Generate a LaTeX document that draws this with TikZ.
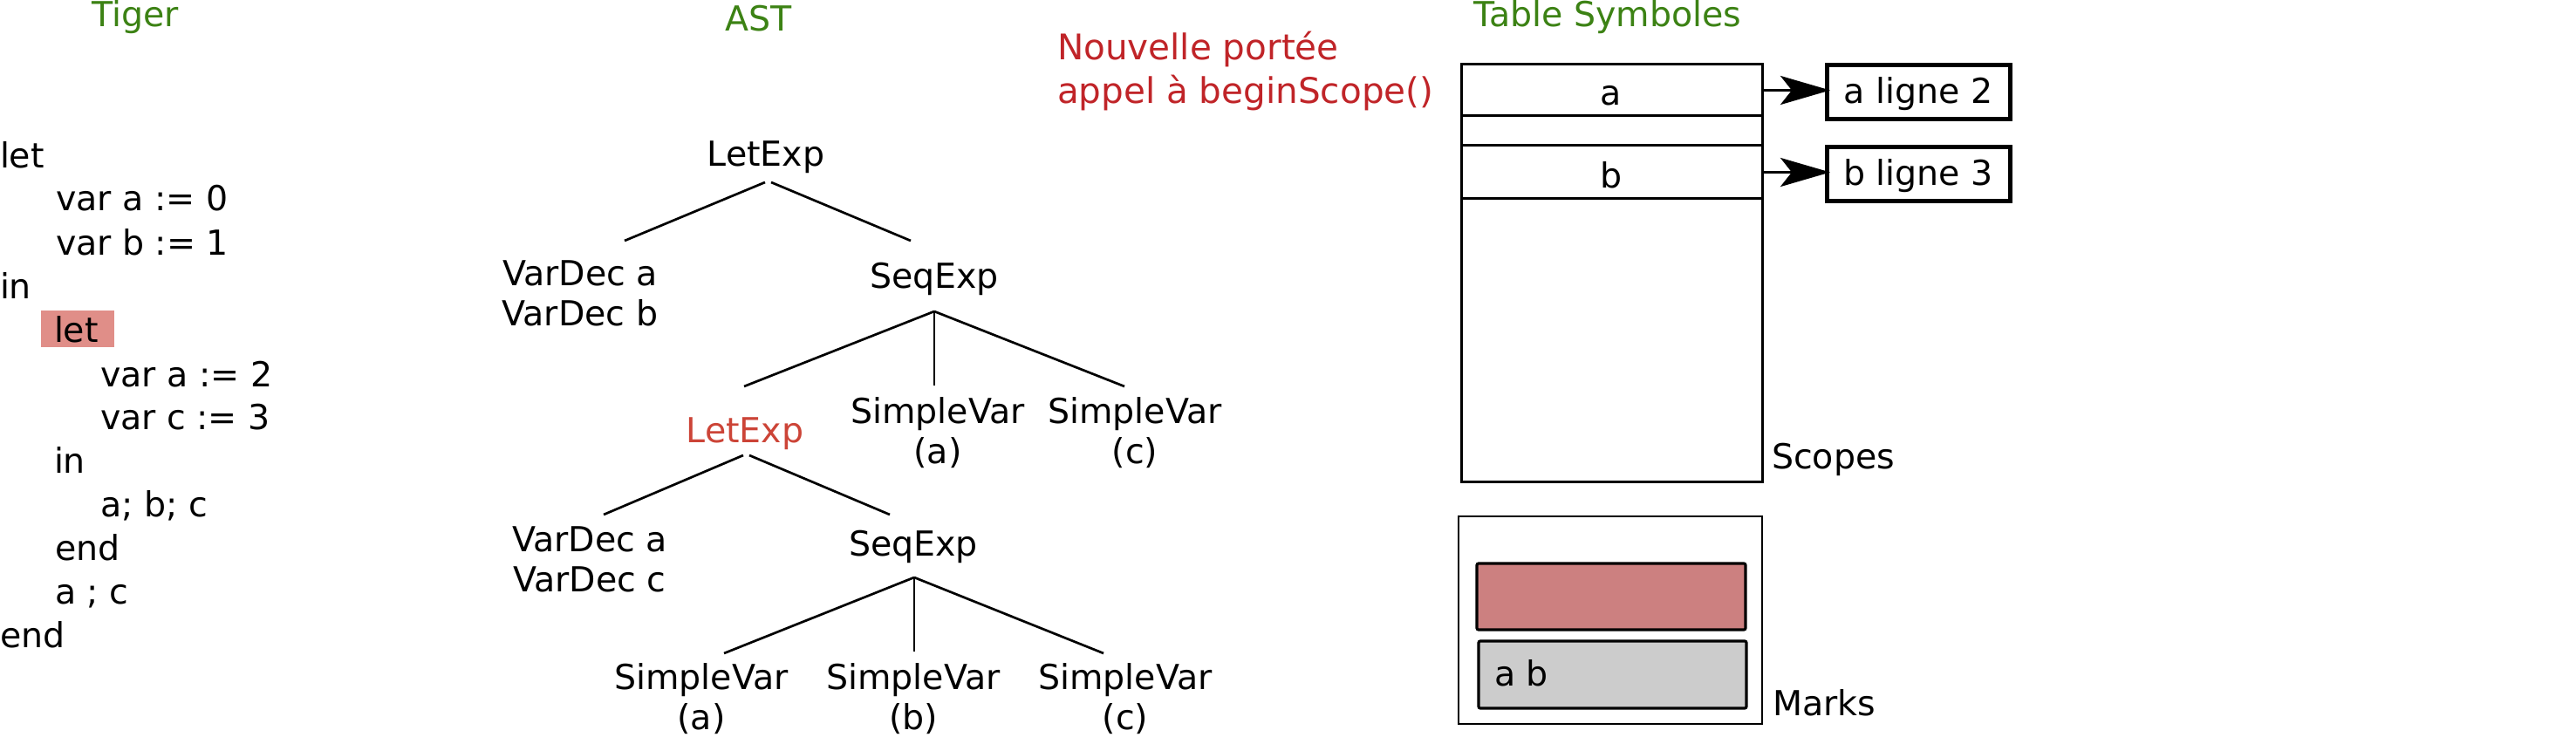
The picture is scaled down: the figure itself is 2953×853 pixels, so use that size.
\documentclass[tikz,border=0pt]{standalone}
\usepackage{fontspec}
\setmainfont{DejaVu Sans}
\usetikzlibrary{arrows.meta,calc}
\definecolor{titlegreen}{RGB}{60,130,20}
\definecolor{notered}{RGB}{192,36,40}
\definecolor{astred}{RGB}{204,68,55}
\definecolor{hlred}{RGB}{224,142,136}
\definecolor{markred}{RGB}{204,128,128}
\definecolor{markgray}{RGB}{204,204,204}
\begin{document}
\begin{tikzpicture}[x=1pt,y=-1pt,
  every node/.style={inner sep=0pt, outer sep=0pt, font=\fontsize{39.5}{46}\selectfont},
  titletext/.style={anchor=base, text=titlegreen},
  codeline/.style={anchor=base west},
  treenode/.style={anchor=base},
  treeedge/.style={line width=2.7pt},
  rowbox/.style={draw, line width=3pt, minimum width=345pt, anchor=north west},
  symbox/.style={draw, line width=5pt, minimum width=210pt, minimum height=62pt, text height=30pt, text depth=4pt},
  ptr/.style={line width=3.5pt, shorten >=-4pt, -{Stealth[length=57pt,width=33pt,inset=13pt]}},
  markbox/.style={draw, line width=3.2pt, rounded corners=2pt, anchor=north west}
]
\useasboundingbox (0,0) rectangle (2953,853);

% titles
\node[titletext] (tiger) at (155,31) {Tiger};
\node[titletext] (ast) at (870,36) {AST};
\node[titletext] (tsym) at (1843,31) {Table Symboles};

% Tiger code
\node[fill=hlred, minimum width=84pt, minimum height=42pt, anchor=north west] (hl) at (47,356) {};
\node[codeline] (c1) at (0,193) {let};
\node[codeline] (c2) at (64,242) {var a := 0};
\node[codeline] (c3) at (64,292) {var b := 1};
\node[codeline] (c4) at (0,342) {in};
\node[codeline] (c5) at (62,392) {let};
\node[codeline] (c6) at (115,443) {var a := 2};
\node[codeline] (c7) at (115,492) {var c := 3};
\node[codeline] (c8) at (62,542) {in};
\node[codeline] (c9) at (115,592) {a; b; c};
\node[codeline] (c10) at (63,642) {end};
\node[codeline] (c11) at (63,692) {a ; c};
\node[codeline] (c12) at (0,742) {end};

% AST
\node[treenode] (root) at (878,191) {LetExp};
\node[treenode] (vd1) at (665,327) {\begin{tabular}[t]{@{}c@{}}VarDec a\\VarDec b\end{tabular}};
\node[treenode] (seq1) at (1071,330) {SeqExp};
\node[treenode, text=astred] (let2) at (854,507) {LetExp};
\node[treenode] (sv1a) at (1075,485) {\begin{tabular}[t]{@{}c@{}}SimpleVar\\(a)\end{tabular}};
\node[treenode] (sv1c) at (1301,485) {\begin{tabular}[t]{@{}c@{}}SimpleVar\\(c)\end{tabular}};
\node[treenode] (vd2) at (676,632) {\begin{tabular}[t]{@{}c@{}}VarDec a\\VarDec c\end{tabular}};
\node[treenode] (seq2) at (1047,637) {SeqExp};
\node[treenode] (sv2a) at (804,790) {\begin{tabular}[t]{@{}c@{}}SimpleVar\\(a)\end{tabular}};
\node[treenode] (sv2b) at (1047,790) {\begin{tabular}[t]{@{}c@{}}SimpleVar\\(b)\end{tabular}};
\node[treenode] (sv2c) at (1290,790) {\begin{tabular}[t]{@{}c@{}}SimpleVar\\(c)\end{tabular}};

\draw[treeedge] ($(root.base)+(-1,18)$) -- ($(vd1.base)+(51,-51)$);
\draw[treeedge] ($(root.base)+(6,18)$) -- ($(seq1.base)+(-27,-54)$);
\draw[treeedge] ($(seq1.base)+(0,27)$) -- ($(let2.base)+(-1,-64)$);
\draw[treeedge] ($(seq1.base)+(0,27)$) -- ($(sv1a.base)+(-4,-43)$);
\draw[treeedge] ($(seq1.base)+(0,27)$) -- ($(sv1c.base)+(-12,-42)$);
\draw[treeedge] ($(let2.base)+(-2,15)$) -- ($(vd2.base)+(16,-42)$);
\draw[treeedge] ($(let2.base)+(5,15)$) -- ($(seq2.base)+(-27,-47)$);
\draw[treeedge] ($(seq2.base)+(1,25)$) -- ($(sv2a.base)+(26,-41)$);
\draw[treeedge] ($(seq2.base)+(1,25)$) -- ($(sv2b.base)+(1,-43)$);
\draw[treeedge] ($(seq2.base)+(1,25)$) -- ($(sv2c.base)+(-25,-41)$);

% note
\node[anchor=base west, text=notered, font=\fontsize{40.5}{50}\selectfont] (note) at (1212,69)
  {\begin{tabular}[t]{@{}l@{}}Nouvelle portée\\appel à beginScope()\end{tabular}};

% symbol table
\node[rowbox, minimum height=478pt] (scopes) at (1675,74) {};
\node[rowbox, minimum height=59pt] (rowa) at (1675,74) {};
\node[rowbox, minimum height=61pt] (rowb) at (1675,167) {};
\node[anchor=base] (ta) at (1847,121) {a};
\node[anchor=base] (tb) at (1847,215) {b};
\node[symbox] (la) at (2199,106) {a ligne 2};
\node[symbox] (lb) at (2199,199.5) {b ligne 3};
\draw[ptr] (rowa.east) -- (rowa.east -| la.west);
\draw[ptr] (rowb.east) -- (rowb.east -| lb.west);
\node[anchor=base west] (scl) at (2031,537) {Scopes};

% marks
\node[draw, line width=2.7pt, minimum width=348pt, minimum height=238pt, anchor=north west] (marks) at (1672,592) {};
\node[markbox, fill=markred, minimum width=308pt, minimum height=76pt] (mred) at (1693,646) {};
\node[markbox, fill=markgray, minimum width=307pt, minimum height=77pt] (mgray) at (1695,735) {};
\node[anchor=base west] (ab) at (1713,786) {a b};
\node[anchor=base west] (mkl) at (2032,820) {Marks};
\end{tikzpicture}
\end{document}
